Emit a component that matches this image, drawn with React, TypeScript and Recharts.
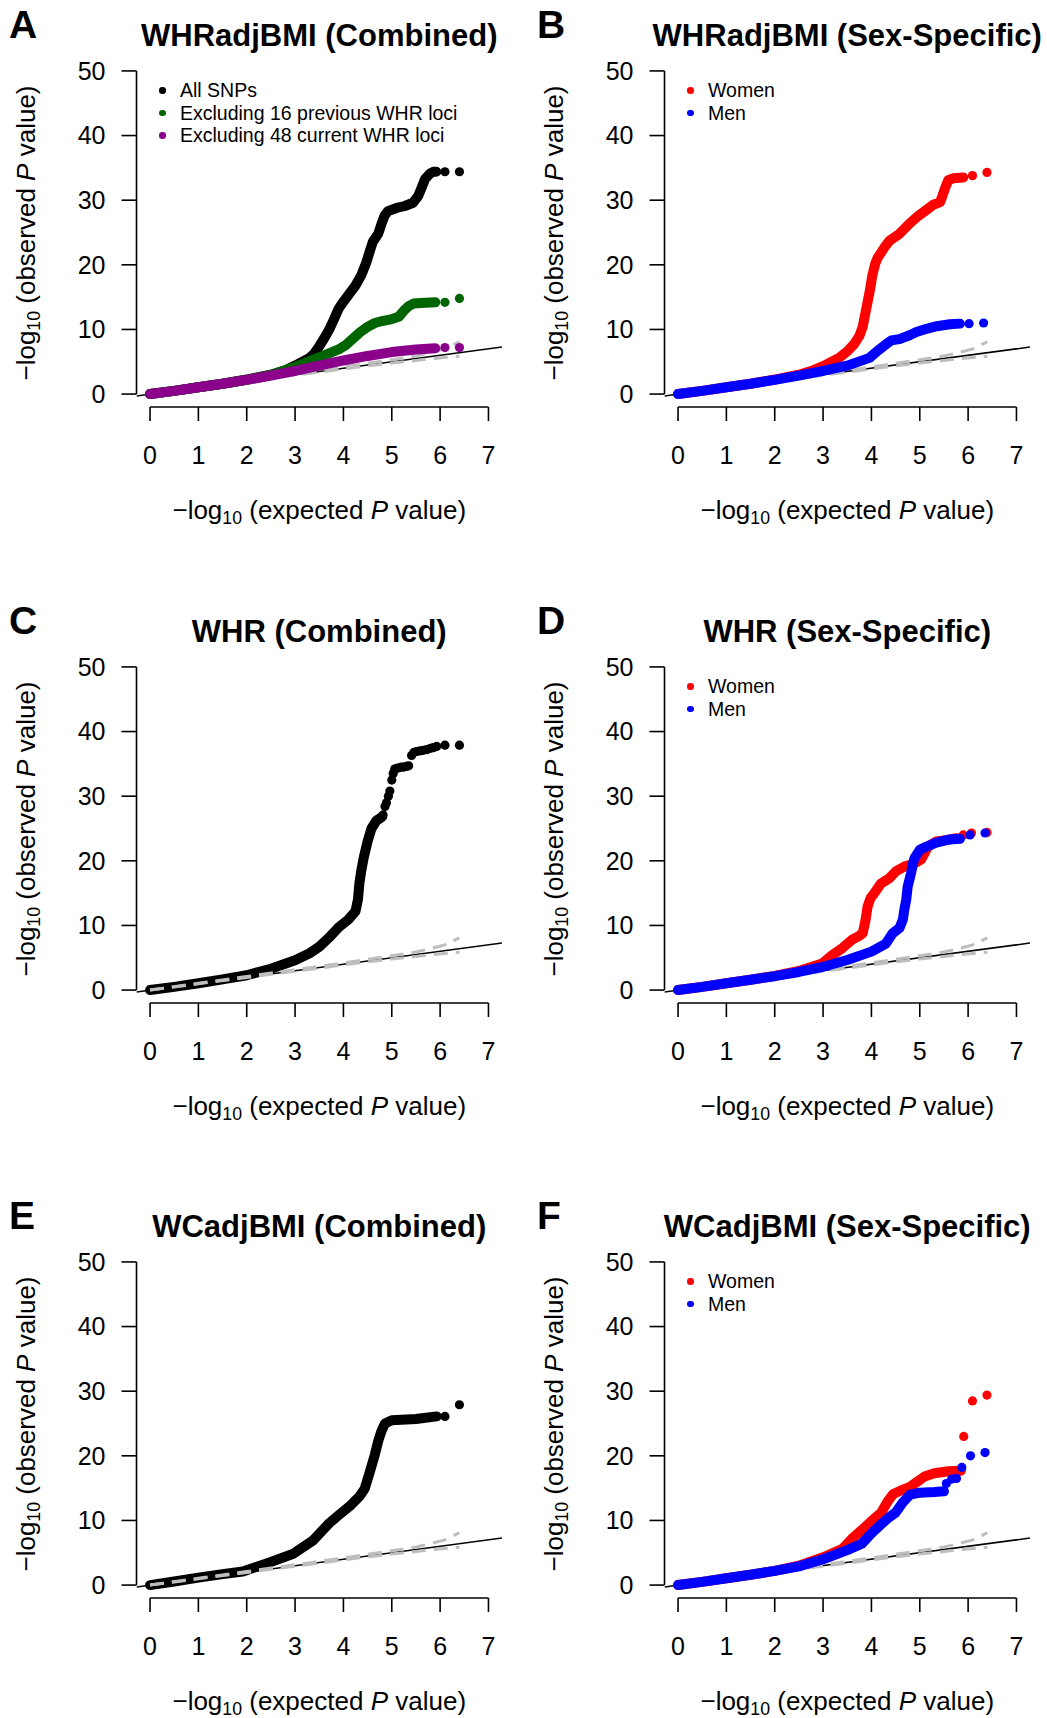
import React from 'react';
import { ScatterChart, Scatter, XAxis, YAxis, ReferenceLine } from 'recharts';

type Pt = [number, number];

// --- axes ---
const xTicks = [0, 1, 2, 3, 4, 5, 6, 7];
const yTicks = [0, 10, 20, 30, 40, 50];
const xDomain: [number, number] = [-0.28, 7.28];
const yDomain: [number, number] = [-2, 52];

// --- reference lines (y = x and the 95% band of the null) ---
const nullLine: Pt[] = [[-0.28, -0.28], [7.28, 7.28]];
const ciUpper: Pt[] = [[0, 0], [1, 1.05], [2, 2.1], [3, 3.15], [4, 4.2], [4.5, 4.75], [5, 5.3], [5.5, 5.9], [5.8, 6.4], [6.1, 7.0], [6.4, 8.1]];
const ciLower: Pt[] = [[0, 0], [1, 0.97], [2, 1.95], [3, 2.92], [4, 3.88], [4.5, 4.35], [5, 4.8], [5.5, 5.2], [5.8, 5.45], [6.1, 5.65], [6.4, 5.85]];

// --- A: WHRadjBMI combined ---
const whrAdjAll: Pt[] = [[0, 0], [0.5, 0.5], [1, 1.05], [1.5, 1.6], [2, 2.25], [2.5, 3.0], [2.8, 3.7], [3, 4.4], [3.3, 5.6], [3.4, 6.3], [3.5, 7.4], [3.6, 8.6], [3.7, 9.9], [3.8, 11.5], [3.9, 13.2], [4.0, 14.3], [4.13, 15.6], [4.25, 16.8], [4.37, 18.4], [4.47, 20.3], [4.55, 22.2], [4.61, 23.6], [4.72, 24.8], [4.79, 26.4], [4.85, 27.6], [4.92, 28.3], [5.1, 28.8], [5.27, 29.1], [5.44, 29.6], [5.55, 30.7], [5.62, 32.0], [5.69, 33.3], [5.79, 34.1], [5.86, 34.4], [5.92, 34.4]];
const whrAdjAllTail: Pt[] = [[6.1, 34.4], [6.4, 34.4]];
const whrAdjEx16: Pt[] = [[0, 0], [0.5, 0.5], [1, 1.05], [1.5, 1.6], [2, 2.2], [2.5, 2.95], [3, 4.2], [3.3, 5.1], [3.6, 6.0], [3.9, 6.9], [4.05, 7.6], [4.2, 8.6], [4.35, 9.6], [4.5, 10.4], [4.65, 11.0], [4.8, 11.3], [5.0, 11.6], [5.15, 12.0], [5.25, 12.9], [5.35, 13.6], [5.45, 14.0], [5.6, 14.1], [5.9, 14.2]];
const whrAdjEx16Tail: Pt[] = [[6.1, 14.2], [6.4, 14.8]];
const whrAdjEx48: Pt[] = [[0, 0], [0.5, 0.5], [1, 1.05], [1.5, 1.6], [2, 2.2], [2.5, 2.85], [3, 3.6], [3.5, 4.4], [4, 5.2], [4.5, 5.9], [5, 6.5], [5.5, 6.9], [5.9, 7.1]];
const whrAdjEx48Tail: Pt[] = [[6.1, 7.2], [6.4, 7.2]];

// --- B: WHRadjBMI sex-specific ---
const whrAdjWomen: Pt[] = [[0, 0], [0.5, 0.5], [1, 1.05], [1.5, 1.6], [2, 2.25], [2.5, 3.0], [2.8, 3.7], [3.05, 4.5], [3.33, 5.6], [3.5, 6.6], [3.64, 7.7], [3.75, 9.0], [3.82, 10.4], [3.89, 13.1], [3.96, 15.7], [4.02, 18.4], [4.08, 20.2], [4.13, 21.1], [4.27, 22.7], [4.37, 23.7], [4.58, 24.8], [4.79, 26.4], [4.96, 27.5], [5.14, 28.5], [5.28, 29.3], [5.42, 29.7], [5.47, 30.7], [5.52, 31.8], [5.59, 33.1], [5.7, 33.4], [5.9, 33.5]];
const whrAdjWomenTail: Pt[] = [[6.09, 33.8], [6.39, 34.3]];
const whrAdjMen: Pt[] = [[0, 0], [0.5, 0.5], [1, 1.05], [1.5, 1.6], [2, 2.2], [2.5, 2.85], [3, 3.6], [3.5, 4.4], [3.96, 5.6], [4.13, 6.7], [4.3, 7.7], [4.41, 8.3], [4.58, 8.5], [4.79, 9.1], [4.93, 9.6], [5.14, 10.1], [5.35, 10.5], [5.62, 10.8], [5.83, 10.9]];
const whrAdjMenTail: Pt[] = [[6.02, 10.9], [6.32, 11.0]];

// --- C: WHR combined ---
const whrAll: Pt[] = [[0, 0], [0.5, 0.5], [1, 1.05], [1.5, 1.65], [2, 2.3], [2.5, 3.3], [3, 4.6], [3.3, 5.7], [3.5, 6.7], [3.7, 8.1], [3.9, 9.7], [4.1, 10.9], [4.25, 12.2], [4.3, 14.0], [4.33, 16.5], [4.37, 18.5], [4.42, 20.5], [4.5, 23.0], [4.58, 25.0], [4.68, 26.2], [4.8, 26.8]];
const whrAllTail: Pt[] = [[4.82, 27.1], [4.86, 28.4], [4.89, 29.0], [4.93, 30.0], [4.96, 30.8], [5.0, 32.5], [5.03, 33.5], [5.06, 34.2], [5.1, 34.3], [5.15, 34.4], [5.2, 34.5], [5.25, 34.5], [5.3, 34.6], [5.35, 34.7], [5.41, 36.3], [5.46, 36.8], [5.51, 36.9], [5.58, 37.0], [5.65, 37.1], [5.72, 37.2], [5.8, 37.4], [5.86, 37.5], [5.93, 37.7], [6.1, 37.9], [6.4, 37.9]];

// --- D: WHR sex-specific ---
const whrWomen: Pt[] = [[0, 0], [0.5, 0.5], [1, 1.05], [1.5, 1.6], [2, 2.2], [2.5, 2.95], [2.98, 4.1], [3.19, 5.4], [3.4, 6.5], [3.6, 7.8], [3.75, 8.4], [3.82, 8.8], [3.88, 10.9], [3.92, 12.9], [3.98, 14.2], [4.06, 15.0], [4.2, 16.5], [4.37, 17.3], [4.51, 18.4], [4.68, 19.1], [4.89, 19.6], [5.03, 20.2], [5.1, 21.2], [5.17, 22.2], [5.34, 23.0], [5.55, 23.2], [5.76, 23.5]];
const whrWomenTail: Pt[] = [[5.9, 24.0], [6.07, 24.3], [6.39, 24.4]];
const whrMen: Pt[] = [[0, 0], [0.5, 0.5], [1, 1.05], [1.5, 1.6], [2, 2.15], [2.5, 2.8], [3, 3.6], [3.5, 4.65], [4, 5.95], [4.3, 7.2], [4.44, 8.8], [4.58, 9.6], [4.65, 10.9], [4.68, 12.4], [4.72, 14.0], [4.75, 16.0], [4.82, 18.1], [4.86, 19.6], [4.89, 20.4], [5.0, 21.7], [5.14, 22.2], [5.34, 22.8], [5.62, 23.3], [5.83, 23.4]];
const whrMenTail: Pt[] = [[6.04, 24.0], [6.35, 24.3]];

// --- E: WCadjBMI combined ---
const wcAdjAll: Pt[] = [[0, 0], [0.5, 0.55], [1, 1.15], [1.5, 1.7], [1.92, 2.1], [2.47, 3.5], [2.95, 4.8], [3.37, 6.9], [3.71, 9.6], [3.9, 10.8], [4.13, 12.2], [4.34, 13.8], [4.44, 14.9], [4.55, 17.6], [4.65, 20.2], [4.72, 22.3], [4.79, 23.9], [4.86, 25.0], [5.0, 25.5], [5.5, 25.7], [5.93, 26.1]];
const wcAdjAllTail: Pt[] = [[6.1, 26.1], [6.4, 27.9]];

// --- F: WCadjBMI sex-specific ---
const wcAdjWomen: Pt[] = [[0, 0], [0.5, 0.5], [1, 1.05], [1.5, 1.6], [2, 2.2], [2.5, 3.0], [3, 4.3], [3.4, 5.6], [3.6, 7.2], [3.8, 8.5], [4.0, 9.9], [4.2, 11.2], [4.35, 13.1], [4.45, 14.1], [4.6, 14.6], [4.8, 15.2], [4.95, 16.0], [5.1, 16.8], [5.3, 17.3], [5.6, 17.6], [5.85, 17.7]];
const wcAdjWomenTail: Pt[] = [[5.91, 23.0], [6.09, 28.5], [6.39, 29.4]];
const wcAdjMen: Pt[] = [[0, 0], [0.5, 0.5], [1, 1.05], [1.5, 1.6], [2, 2.2], [2.5, 2.9], [3, 4.0], [3.5, 5.4], [3.8, 6.4], [4, 8.0], [4.2, 9.4], [4.35, 10.4], [4.5, 11.2], [4.65, 12.8], [4.8, 14.0], [5.0, 14.3], [5.3, 14.4], [5.5, 14.5]];
const wcAdjMenTail: Pt[] = [[5.55, 15.7], [5.66, 16.4], [5.76, 16.5], [5.87, 18.2], [6.05, 20.0], [6.35, 20.5]];

const FONT = '"Liberation Sans", Arial, Helvetica, sans-serif';
const PANEL_W = 528;
const PANEL_H = 596;
const PLOT_LEFT = 136.5;
const PLOT_RIGHT = 502;
const PLOT_TOP = 58;
const PLOT_BOTTOM = 407;
const PLOT_CX = (PLOT_LEFT + PLOT_RIGHT) / 2;

interface Series {
  name: string;
  color: string;
  band: Pt[];
  tail: Pt[];
}

interface PanelDef {
  letter: string;
  title: string;
  left: number;
  top: number;
  series: Series[];
  showLegend: boolean;
  ciOnTop: boolean;
}

const toXY = (pts: Pt[]) => pts.map(([x, y]) => ({ x, y }));

const NoDot = () => null;
const makeDot = (color: string) => (p: any) => <circle cx={p.cx} cy={p.cy} r={4.6} fill={color} />;

const panels: PanelDef[] = [
  {
    letter: 'A', title: 'WHRadjBMI (Combined)', left: 0, top: 0, showLegend: true, ciOnTop: false,
    series: [
      { name: 'All SNPs', color: '#000000', band: whrAdjAll, tail: whrAdjAllTail },
      { name: 'Excluding 16 previous WHR loci', color: '#006400', band: whrAdjEx16, tail: whrAdjEx16Tail },
      { name: 'Excluding 48 current WHR loci', color: '#8B008B', band: whrAdjEx48, tail: whrAdjEx48Tail },
    ],
  },
  {
    letter: 'B', title: 'WHRadjBMI (Sex-Specific)', left: 528, top: 0, showLegend: true, ciOnTop: false,
    series: [
      { name: 'Women', color: '#FF0000', band: whrAdjWomen, tail: whrAdjWomenTail },
      { name: 'Men', color: '#0000FF', band: whrAdjMen, tail: whrAdjMenTail },
    ],
  },
  {
    letter: 'C', title: 'WHR (Combined)', left: 0, top: 596, showLegend: false, ciOnTop: true,
    series: [{ name: 'All SNPs', color: '#000000', band: whrAll, tail: whrAllTail }],
  },
  {
    letter: 'D', title: 'WHR (Sex-Specific)', left: 528, top: 596, showLegend: true, ciOnTop: false,
    series: [
      { name: 'Women', color: '#FF0000', band: whrWomen, tail: whrWomenTail },
      { name: 'Men', color: '#0000FF', band: whrMen, tail: whrMenTail },
    ],
  },
  {
    letter: 'E', title: 'WCadjBMI (Combined)', left: 0, top: 1191, showLegend: false, ciOnTop: true,
    series: [{ name: 'All SNPs', color: '#000000', band: wcAdjAll, tail: wcAdjAllTail }],
  },
  {
    letter: 'F', title: 'WCadjBMI (Sex-Specific)', left: 528, top: 1191, showLegend: true, ciOnTop: false,
    series: [
      { name: 'Women', color: '#FF0000', band: wcAdjWomen, tail: wcAdjWomenTail },
      { name: 'Men', color: '#0000FF', band: wcAdjMen, tail: wcAdjMenTail },
    ],
  },
];

const sub = (
  <span style={{ fontSize: '0.68em', position: 'relative', top: '0.28em' }}>10</span>
);

const ciScatters = (key: string) => [
  <Scatter
    key={key + '-up'}
    data={toXY(ciUpper)}
    fill="#BEBEBE"
    line={{ stroke: '#BEBEBE', strokeWidth: 3, strokeDasharray: '14 8' }}
    shape={NoDot}
    isAnimationActive={false}
  />,
  <Scatter
    key={key + '-lo'}
    data={toXY(ciLower)}
    fill="#BEBEBE"
    line={{ stroke: '#BEBEBE', strokeWidth: 3, strokeDasharray: '14 8' }}
    shape={NoDot}
    isAnimationActive={false}
  />,
];

const Panel: React.FC<{ def: PanelDef }> = ({ def }) => {
  const axisTick = { fill: '#000', fontSize: 25, fontFamily: FONT };
  const tickLine = { stroke: '#000', strokeWidth: 1.6 };
  return (
    <div style={{ position: 'absolute', left: def.left, top: def.top, width: PANEL_W, height: PANEL_H }}>
      <ScatterChart
        width={PANEL_W}
        height={PANEL_H}
        margin={{ top: PLOT_TOP, right: PANEL_W - PLOT_RIGHT, bottom: PANEL_H - PLOT_BOTTOM - 60, left: PLOT_LEFT - 100 }}
      >
        <XAxis
          type="number"
          dataKey="x"
          domain={xDomain}
          ticks={xTicks}
          interval={0}
          allowDataOverflow
          axisLine={false}
          stroke="#000"
          tickLine={tickLine}
          tickSize={14}
          tickMargin={25}
          tick={axisTick}
          height={60}
        />
        <YAxis
          type="number"
          dataKey="y"
          domain={yDomain}
          ticks={yTicks}
          interval={0}
          allowDataOverflow
          axisLine={false}
          stroke="#000"
          tickLine={tickLine}
          tickSize={15}
          tickMargin={16}
          tick={axisTick}
          width={100}
        />
        <ReferenceLine
          segment={[{ x: xDomain[0], y: yTicks[0] }, { x: xDomain[0], y: yTicks[yTicks.length - 1] }]}
          stroke="#000"
          strokeWidth={1.6}
          ifOverflow="visible"
        />
        <ReferenceLine
          segment={[{ x: xTicks[0], y: yDomain[0] }, { x: xTicks[xTicks.length - 1], y: yDomain[0] }]}
          stroke="#000"
          strokeWidth={1.6}
          ifOverflow="visible"
        />
        <Scatter
          data={toXY(nullLine)}
          fill="#000"
          line={{ stroke: '#000', strokeWidth: 1.5 }}
          shape={NoDot}
          isAnimationActive={false}
        />
        {!def.ciOnTop && ciScatters(def.letter + '-ci')}
        {def.series.map((s) => [
          <Scatter
            key={s.name + '-band'}
            name={s.name}
            data={toXY(s.band)}
            fill={s.color}
            line={{ stroke: s.color, strokeWidth: 10, strokeLinecap: 'round', strokeLinejoin: 'round' }}
            shape={NoDot}
            isAnimationActive={false}
          />,
          <Scatter
            key={s.name + '-tail'}
            data={toXY(s.tail)}
            fill={s.color}
            shape={makeDot(s.color)}
            isAnimationActive={false}
          />,
        ])}
        {def.ciOnTop && ciScatters(def.letter + '-ci')}
      </ScatterChart>

      {/* panel letter and title */}
      <div style={{ position: 'absolute', left: 9, top: 5, fontSize: 39, fontWeight: 'bold', lineHeight: 1 }}>
        {def.letter}
      </div>
      <div
        style={{
          position: 'absolute', left: PLOT_CX, top: 20, transform: 'translateX(-50%)',
          fontSize: 31, fontWeight: 'bold', lineHeight: 1, whiteSpace: 'nowrap',
        }}
      >
        {def.title}
      </div>

      {/* axis titles */}
      <div
        style={{
          position: 'absolute', left: PLOT_CX, top: 497, transform: 'translateX(-50%)',
          fontSize: 26, lineHeight: 1, whiteSpace: 'nowrap',
        }}
      >
        {'\u2212log'}{sub} (expected <i>P</i> value)
      </div>
      <div
        style={{
          position: 'absolute', left: 26, top: 232.5, transform: 'translate(-50%, -50%) rotate(-90deg)',
          fontSize: 26, lineHeight: 1, whiteSpace: 'nowrap',
        }}
      >
        {'\u2212log'}{sub} (observed <i>P</i> value)
      </div>

      {/* legend */}
      {def.showLegend &&
        def.series.map((s, i) => (
          <div key={s.name} style={{ position: 'absolute', left: 0, top: 90 + i * 22.5 - 10, height: 20, width: 440 }}>
            <span
              style={{
                position: 'absolute', left: 159, top: 7, width: 6.5, height: 6.5,
                borderRadius: '50%', background: s.color,
              }}
            />
            <span style={{ position: 'absolute', left: 180, top: 0, fontSize: 19.5, lineHeight: '20px', whiteSpace: 'nowrap' }}>
              {s.name}
            </span>
          </div>
        ))}
    </div>
  );
};

export default function App() {
  return (
    <div
      style={{
        position: 'absolute', left: 0, top: 0, width: 1047, height: 1718,
        overflow: 'hidden', background: '#fff', fontFamily: FONT, color: '#000',
      }}
    >
      {panels.map((p) => (
        <Panel key={p.letter} def={p} />
      ))}
    </div>
  );
}
